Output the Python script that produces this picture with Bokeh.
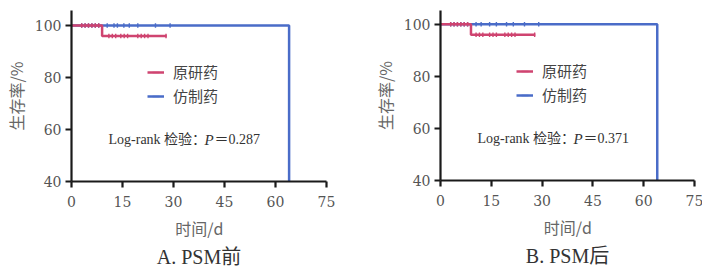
import math
from bokeh.plotting import figure
from bokeh.models import Range1d, Legend, LegendItem, Label, Title, FixedTicker
from bokeh.layouts import row
from bokeh.embed import file_html
from bokeh.resources import INLINE

# ---------------- data ----------------
x_ticks = [0, 15, 30, 45, 60, 75]
y_ticks = [40, 60, 80, 100]
series_names = ["原研药", "仿制药"]
panel_titles = ["A. PSM前", "B. PSM后"]
p_values = ["0.287", "0.371"]

# Panel A (before PSM)
a_orig_step_t = [0, 9, 28]
a_orig_step_s = [100, 96, 96]
a_orig_cens_t = [3, 4, 5, 6, 7, 8, 11, 12, 13, 14.5, 15.5, 16.5, 19.5, 20.5, 21.5, 22.5, 27.8]
a_orig_cens_s = [100, 100, 100, 100, 100, 100, 96, 96, 96, 96, 96, 96, 96, 96, 96, 96, 96]
a_gen_step_t = [0, 64]
a_gen_step_s = [100, 0]
a_gen_cens_t = [3, 4, 5, 6, 7, 8, 10.5, 12.5, 13.5, 15.4, 17, 19.5, 24.7, 29]
a_gen_cens_s = [100, 100, 100, 100, 100, 100, 100, 100, 100, 100, 100, 100, 100, 100]

# Panel B (after PSM)
b_orig_step_t = [0, 9, 28]
b_orig_step_s = [100, 96, 96]
b_orig_cens_t = [3, 4, 5, 6, 7, 8, 10.5, 11.5, 12.5, 14.5, 15.5, 16.5, 19, 20, 21, 22, 27.8]
b_orig_cens_s = [100, 100, 100, 100, 100, 100, 96, 96, 96, 96, 96, 96, 96, 96, 96, 96, 96]
b_gen_step_t = [0, 64]
b_gen_step_s = [100, 0]
b_gen_cens_t = [3, 4, 5, 6, 7, 8, 10.5, 12, 14.5, 16.5, 19.5, 21.5, 24.8, 29]
b_gen_cens_s = [100, 100, 100, 100, 100, 100, 100, 100, 100, 100, 100, 100, 100, 100]

RED = "#cf4470"
BLUE = "#4a6cc8"
SERIF = "DejaVu Serif"
TXT = "Liberation Serif, Noto Sans CJK SC"
CJK = "Noto Sans CJK SC"


def make_panel(title, pval, orig, gen, left, right, top, bottom, fw, fh, ytop):
    p = figure(frame_width=fw, frame_height=fh, output_backend="svg",
               toolbar_location=None, x_range=Range1d(0, 75), y_range=Range1d(40, ytop),
               min_border_left=left, min_border_right=right,
               min_border_top=top, min_border_bottom=bottom)
    p.outline_line_color = None
    p.grid.visible = False
    p.background_fill_color = "white"
    p.border_fill_color = "white"

    for ax, ticks in ((p.xaxis, x_ticks), (p.yaxis, y_ticks)):
        ax.ticker = FixedTicker(ticks=ticks)
        ax.axis_line_width = 2.2
        ax.axis_line_color = "#1a1a1a"
        ax.major_tick_line_width = 2.2
        ax.major_tick_line_color = "#1a1a1a"
        ax.major_tick_out = 6
        ax.major_tick_in = 0
        ax.minor_tick_line_color = None
        ax.major_label_text_font = SERIF
        ax.major_label_text_font_size = "14px"
        ax.major_label_text_color = "#555555"
        ax.axis_label_text_font = CJK
        ax.axis_label_text_font_style = "normal"
        ax.axis_label_text_color = "#666666"
        ax.axis_label_text_font_size = "16px"
    p.xaxis.axis_label = "时间/d"
    p.yaxis.axis_label = "生存率/%"
    p.xaxis.major_label_standoff = 8
    p.yaxis.major_label_standoff = 4
    p.xaxis.axis_label_standoff = 6
    p.yaxis.axis_label_standoff = 4

    renders = {}
    # draw the generic (blue) series first so the red one sits on top at 100 %
    for key, color, (st, ss, ct, cs) in (("gen", BLUE, gen), ("orig", RED, orig)):
        r1 = p.step(st, ss, mode="after", line_width=2.5, line_color=color)
        r2 = p.scatter(ct, cs, marker="dash", angle=math.pi / 2, size=4.5,
                       line_width=1.4, line_color=color)
        renders[key] = [r1, r2]
    items = [LegendItem(label=series_names[0], renderers=renders["orig"]),
             LegendItem(label=series_names[1], renderers=renders["gen"])]

    legend = Legend(items=items, location=(76, 75), orientation="vertical")
    legend.background_fill_alpha = 0
    legend.border_line_color = None
    legend.padding = 0
    legend.margin = 0
    legend.spacing = 3
    legend.glyph_width = 17
    legend.glyph_height = 18
    legend.label_height = 18
    legend.label_standoff = 9
    legend.label_text_font = CJK
    legend.label_text_font_size = "15px"
    legend.label_text_color = "#444444"
    p.add_layout(legend, "center")

    y_lr = 42
    p.add_layout(Label(x=37, y=y_lr, x_units="screen", y_units="screen",
                       text="Log-rank 检验：", text_font=TXT, text_font_size="14px",
                       text_color="#333333", text_baseline="middle"))
    p.add_layout(Label(x=133, y=y_lr, x_units="screen", y_units="screen",
                       text="P", text_font="Liberation Serif", text_font_style="italic",
                       text_font_size="15px", text_color="#333333", text_baseline="middle"))
    p.add_layout(Label(x=143, y=y_lr, x_units="screen", y_units="screen",
                       text="＝" + pval, text_font=TXT, text_font_size="14px",
                       text_color="#333333", text_baseline="middle"))

    t = Title(text=title, align="center", text_font=TXT, text_font_size="20px",
              text_font_style="normal", text_color="#333333", standoff=2)
    p.add_layout(t, "below")
    return p


pa = make_panel(panel_titles[0], p_values[0],
                (a_orig_step_t, a_orig_step_s, a_orig_cens_t, a_orig_cens_s),
                (a_gen_step_t, a_gen_step_s, a_gen_cens_t, a_gen_cens_s),
                69, 27, 7, 89, 255, 171, 105.8)
pb = make_panel(panel_titles[1], p_values[1],
                (b_orig_step_t, b_orig_step_s, b_orig_cens_t, b_orig_cens_s),
                (b_gen_step_t, b_gen_step_s, b_gen_cens_t, b_gen_cens_s),
                87, 10, 10, 87, 254, 170, 105.3)

layout = row(pa, pb)
open("out.html", "w").write(file_html(layout, INLINE))
